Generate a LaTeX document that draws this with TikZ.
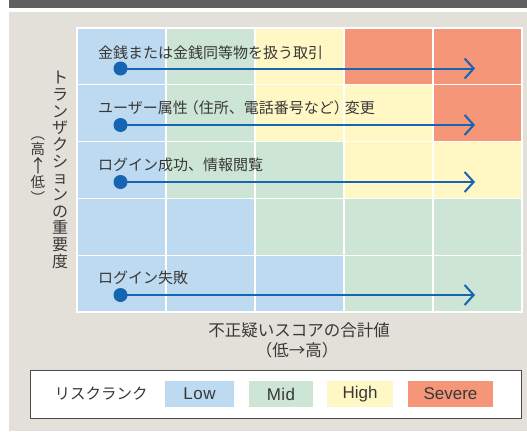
\documentclass[tikz,border=0pt]{standalone}
\usepackage{fontspec}
\setmainfont{Noto Sans CJK JP}
\newfontfamily\latinfont{Liberation Sans}
\usetikzlibrary{arrows.meta}
\definecolor{lowc}{HTML}{BDDAF0}
\definecolor{midc}{HTML}{CCE5D4}
\definecolor{highc}{HTML}{FFF8C4}
\definecolor{sevc}{HTML}{F59679}
\definecolor{bgc}{HTML}{E3E0DA}
\definecolor{barc}{HTML}{5F5F5F}
\definecolor{arrc}{HTML}{1565B3}
\definecolor{txtc}{HTML}{383838}
\definecolor{framec}{HTML}{4A4A4A}
\begin{document}
\begin{tikzpicture}[x=1pt,y=-1pt,
  cell/.style={draw=white,line width=1.3pt,minimum width=89pt,minimum height=56.8pt,inner sep=0pt,outer sep=0pt,anchor=north west},
  rowlabel/.style={anchor=west,font=\fontsize{15}{15}\selectfont,text=txtc,inner sep=0pt},
  dotnode/.style={circle,fill=arrc,minimum size=14pt,inner sep=0pt},
  flow/.style={draw=arrc,line width=2pt,-{Straight Barb[length=9pt,width=20pt,line width=2pt]}},
  axislabel/.style={font=\fontsize{16.5}{18}\selectfont,text=txtc,inner sep=0pt},
  swatch/.style={minimum height=26pt,inner sep=0pt,font=\latinfont\fontsize{17}{18}\selectfont,text=txtc}]
\useasboundingbox (0,0) rectangle (527,431);
\fill[barc] (9,0) rectangle (527,8);
\fill[bgc] (9,12) rectangle (527,431);
% grid
\foreach \row [count=\r from 0] in {{lowc,midc,highc,sevc,sevc},{lowc,midc,highc,highc,sevc},{lowc,midc,midc,highc,highc},{lowc,lowc,midc,midc,midc},{lowc,lowc,lowc,midc,midc}}{
  \foreach \c [count=\k from 0] in \row {
    \node[cell,fill=\c] (c\r\k) at ({77+89*\k},{28+56.8*\r}) {};
  }
}
% row labels
\node[rowlabel] (l1) at (98,53) {金銭または金銭同等物を扱う取引};
\node[rowlabel] (l2) at (98,108) {ユーザー属性\kern-4pt（住所、電話番号など）\kern-4pt変更};
\node[rowlabel] (l3) at (98,165) {ログイン成功、情報閲覧};
\node[rowlabel] (l5) at (98,278) {ログイン失敗};
% arrows
\node[dotnode] (d1) at (120.5,68.5) {};
\node[dotnode] (d2) at (120.5,125) {};
\node[dotnode] (d3) at (120.5,182) {};
\node[dotnode] (d5) at (120.5,295) {};
\coordinate (e1) at (475,68.5);
\coordinate (e2) at (475,125);
\coordinate (e3) at (475,182);
\coordinate (e5) at (475,295);
\draw[flow] (d1.center) -- (e1);
\draw[flow] (d2.center) -- (e2);
\draw[flow] (d3.center) -- (e3);
\draw[flow] (d5.center) -- (e5);
% vertical axis label
\node[align=center,inner sep=0pt,text=txtc,font=\fontsize{16}{16.7}\selectfont] (vlab) at (60,170)
  {ト\\ラ\\ン\\ザ\\ク\\シ\\ョ\\ン\\の\\重\\要\\度};
\node[align=center,inner sep=0pt,text=txtc,font=\fontsize{14.5}{15.5}\selectfont] (vsub) at (38,170)
  {︵\\高\\{\fontsize{18}{15.5}\selectfont ↑}\\低\\︶};
% horizontal axis label
\node[axislabel] (hlab) at (299,330) {不正疑いスコアの合計値};
\node[axislabel] (hsub) at (297,350) {\kern-2pt（低→高）\kern-2pt};
% legend
\node[draw=framec,line width=1pt,fill=white,minimum width=491.5pt,minimum height=48pt,inner sep=0pt] (legend) at (275.8,394) {};
\node[text=txtc,font=\fontsize{15.5}{16}\selectfont,inner sep=0pt] (rank) at (101,394) {リスクランク};
\node[swatch,fill=lowc,minimum width=69pt] (sLow) at (199.5,394) {L\kern0.6pt o\kern0.6pt w};
\node[swatch,fill=midc,minimum width=64pt] (sMid) at (281,394) {M\kern0.5pt i\kern0.5pt d};
\node[swatch,fill=highc,minimum width=66pt] (sHigh) at (360,394) {High};
\node[swatch,fill=sevc,minimum width=85pt] (sSev) at (450.5,394) {Severe};
\end{tikzpicture}
\end{document}
